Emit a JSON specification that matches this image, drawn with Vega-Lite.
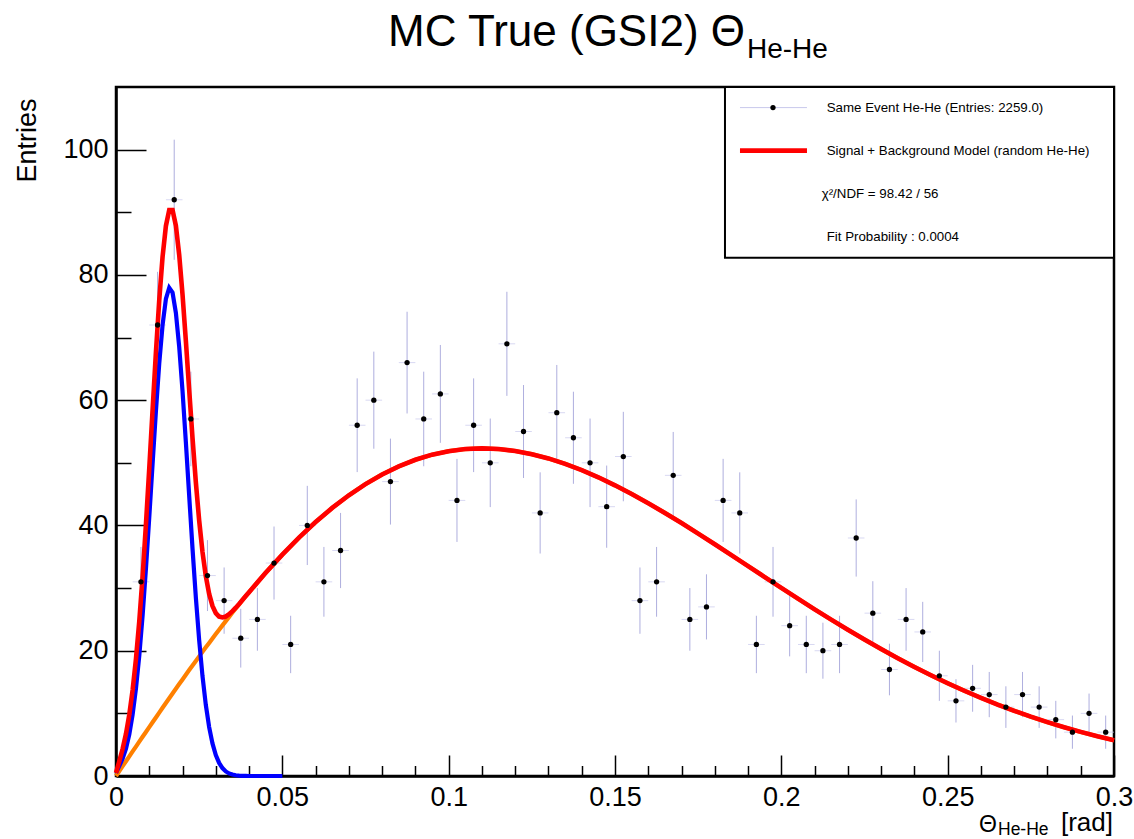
{
  "$schema": "https://vega.github.io/schema/vega-lite/v6.json",
  "width": 998,
  "height": 689,
  "autosize": "none",
  "padding": {"left": 116, "top": 87, "right": 20, "bottom": 63},
  "background": "white",
  "resolve": {"axis": {"x": "independent"}},
  "config": {
    "font": "Liberation Sans",
    "view": {"stroke": "#000000", "strokeWidth": 2.5},
    "axis": {
      "grid": false,
      "domainColor": "#000000",
      "domainWidth": 2.5,
      "tickColor": "#000000",
      "tickWidth": 1.5,
      "labelColor": "#000000",
      "labelFont": "Liberation Sans",
      "labelFontSize": 27,
      "labelFlush": false,
      "labelOverlap": false,
      "titleColor": "#000000",
      "titleFont": "Liberation Sans",
      "titleFontWeight": "normal"
    }
  },
  "datasets": {
    "h": [
      {"x": 0.0075, "n": 31, "e": 5.57},
      {"x": 0.0125, "n": 72, "e": 8.49},
      {"x": 0.0175, "n": 92, "e": 9.59},
      {"x": 0.0225, "n": 57, "e": 7.55},
      {"x": 0.0275, "n": 32, "e": 5.66},
      {"x": 0.0325, "n": 28, "e": 5.29},
      {"x": 0.0375, "n": 22, "e": 4.69},
      {"x": 0.0425, "n": 25, "e": 5.0},
      {"x": 0.0475, "n": 34, "e": 5.83},
      {"x": 0.0525, "n": 21, "e": 4.58},
      {"x": 0.0575, "n": 40, "e": 6.32},
      {"x": 0.0625, "n": 31, "e": 5.57},
      {"x": 0.0675, "n": 36, "e": 6.0},
      {"x": 0.0725, "n": 56, "e": 7.48},
      {"x": 0.0775, "n": 60, "e": 7.75},
      {"x": 0.0825, "n": 47, "e": 6.86},
      {"x": 0.0875, "n": 66, "e": 8.12},
      {"x": 0.0925, "n": 57, "e": 7.55},
      {"x": 0.0975, "n": 61, "e": 7.81},
      {"x": 0.1025, "n": 44, "e": 6.63},
      {"x": 0.1075, "n": 56, "e": 7.48},
      {"x": 0.1125, "n": 50, "e": 7.07},
      {"x": 0.1175, "n": 69, "e": 8.31},
      {"x": 0.1225, "n": 55, "e": 7.42},
      {"x": 0.1275, "n": 42, "e": 6.48},
      {"x": 0.1325, "n": 58, "e": 7.62},
      {"x": 0.1375, "n": 54, "e": 7.35},
      {"x": 0.1425, "n": 50, "e": 7.07},
      {"x": 0.1475, "n": 43, "e": 6.56},
      {"x": 0.1525, "n": 51, "e": 7.14},
      {"x": 0.1575, "n": 28, "e": 5.29},
      {"x": 0.1625, "n": 31, "e": 5.57},
      {"x": 0.1675, "n": 48, "e": 6.93},
      {"x": 0.1725, "n": 25, "e": 5.0},
      {"x": 0.1775, "n": 27, "e": 5.2},
      {"x": 0.1825, "n": 44, "e": 6.63},
      {"x": 0.1875, "n": 42, "e": 6.48},
      {"x": 0.1925, "n": 21, "e": 4.58},
      {"x": 0.1975, "n": 31, "e": 5.57},
      {"x": 0.2025, "n": 24, "e": 4.9},
      {"x": 0.2075, "n": 21, "e": 4.58},
      {"x": 0.2125, "n": 20, "e": 4.47},
      {"x": 0.2175, "n": 21, "e": 4.58},
      {"x": 0.2225, "n": 38, "e": 6.16},
      {"x": 0.2275, "n": 26, "e": 5.1},
      {"x": 0.2325, "n": 17, "e": 4.12},
      {"x": 0.2375, "n": 25, "e": 5.0},
      {"x": 0.2425, "n": 23, "e": 4.8},
      {"x": 0.2475, "n": 16, "e": 4.0},
      {"x": 0.2525, "n": 12, "e": 3.46},
      {"x": 0.2575, "n": 14, "e": 3.74},
      {"x": 0.2625, "n": 13, "e": 3.61},
      {"x": 0.2675, "n": 11, "e": 3.32},
      {"x": 0.2725, "n": 13, "e": 3.61},
      {"x": 0.2775, "n": 11, "e": 3.32},
      {"x": 0.2825, "n": 9, "e": 3.0},
      {"x": 0.2875, "n": 7, "e": 2.65},
      {"x": 0.2925, "n": 10, "e": 3.16},
      {"x": 0.2975, "n": 7, "e": 2.65}
    ],
    "fit": [
      {"x": 0.000, "s": 0.5, "b": 0.0, "t": 0.5},
      {"x": 0.001, "s": 1.6, "b": 0.78, "t": 2.38},
      {"x": 0.002, "s": 2.78, "b": 1.57, "t": 4.35},
      {"x": 0.003, "s": 4.38, "b": 2.35, "t": 6.73},
      {"x": 0.004, "s": 6.66, "b": 3.13, "t": 9.79},
      {"x": 0.005, "s": 9.81, "b": 3.92, "t": 13.73},
      {"x": 0.006, "s": 13.97, "b": 4.7, "t": 18.67},
      {"x": 0.007, "s": 19.25, "b": 5.48, "t": 24.73},
      {"x": 0.008, "s": 25.66, "b": 6.26, "t": 31.92},
      {"x": 0.009, "s": 33.12, "b": 7.03, "t": 40.15},
      {"x": 0.010, "s": 41.32, "b": 7.81, "t": 49.13},
      {"x": 0.011, "s": 49.88, "b": 8.58, "t": 58.46},
      {"x": 0.012, "s": 58.27, "b": 9.35, "t": 67.62},
      {"x": 0.013, "s": 65.86, "b": 10.12, "t": 75.98},
      {"x": 0.014, "s": 72.0, "b": 10.89, "t": 82.89},
      {"x": 0.015, "s": 76.17, "b": 11.65, "t": 87.82},
      {"x": 0.016, "s": 77.95, "b": 12.41, "t": 90.36},
      {"x": 0.017, "s": 77.18, "b": 13.17, "t": 90.35},
      {"x": 0.018, "s": 73.94, "b": 13.92, "t": 87.86},
      {"x": 0.019, "s": 68.52, "b": 14.68, "t": 83.2},
      {"x": 0.020, "s": 61.44, "b": 15.42, "t": 76.86},
      {"x": 0.021, "s": 53.3, "b": 16.17, "t": 69.47},
      {"x": 0.022, "s": 44.73, "b": 16.91, "t": 61.64},
      {"x": 0.023, "s": 36.32, "b": 17.64, "t": 53.96},
      {"x": 0.024, "s": 28.53, "b": 18.37, "t": 46.9},
      {"x": 0.025, "s": 21.68, "b": 19.1, "t": 40.78},
      {"x": 0.026, "s": 15.95, "b": 19.82, "t": 35.77},
      {"x": 0.027, "s": 11.35, "b": 20.54, "t": 31.89},
      {"x": 0.028, "s": 7.81, "b": 21.25, "t": 29.06},
      {"x": 0.029, "s": 5.2, "b": 21.96, "t": 27.16},
      {"x": 0.030, "s": 3.35, "b": 22.66, "t": 26.01},
      {"x": 0.031, "s": 2.09, "b": 23.36, "t": 25.45},
      {"x": 0.032, "s": 1.26, "b": 24.05, "t": 25.31},
      {"x": 0.033, "s": 0.73, "b": 24.73, "t": 25.46},
      {"x": 0.034, "s": 0.41, "b": 25.41, "t": 25.82},
      {"x": 0.035, "s": 0.23, "b": 26.09, "t": 26.32},
      {"x": 0.036, "s": 0.12, "b": 26.75, "t": 26.87},
      {"x": 0.037, "s": 0.06, "b": 27.41, "t": 27.47},
      {"x": 0.038, "s": 0.03, "b": 28.07, "t": 28.1},
      {"x": 0.039, "s": 0.01, "b": 28.71, "t": 28.72},
      {"x": 0.040, "s": 0.0, "b": 29.35, "t": 29.35},
      {"x": 0.045, "s": 0.0, "b": 32.45, "t": 32.45},
      {"x": 0.050, "s": 0.0, "b": 35.35, "t": 35.35},
      {"x": 0.055, "s": 0.0, "b": 38.05, "t": 38.05},
      {"x": 0.060, "s": 0.0, "b": 40.54, "t": 40.54},
      {"x": 0.065, "s": 0.0, "b": 42.8, "t": 42.8},
      {"x": 0.070, "s": 0.0, "b": 44.82, "t": 44.82},
      {"x": 0.075, "s": 0.0, "b": 46.6, "t": 46.6},
      {"x": 0.080, "s": 0.0, "b": 48.14, "t": 48.14},
      {"x": 0.085, "s": 0.0, "b": 49.44, "t": 49.44},
      {"x": 0.090, "s": 0.0, "b": 50.49, "t": 50.49},
      {"x": 0.095, "s": 0.0, "b": 51.3, "t": 51.3},
      {"x": 0.100, "s": 0.0, "b": 51.86, "t": 51.86},
      {"x": 0.105, "s": 0.0, "b": 52.2, "t": 52.2},
      {"x": 0.110, "s": 0.0, "b": 52.31, "t": 52.31},
      {"x": 0.115, "s": 0.0, "b": 52.2, "t": 52.2},
      {"x": 0.120, "s": 0.0, "b": 51.89, "t": 51.89},
      {"x": 0.125, "s": 0.0, "b": 51.38, "t": 51.38},
      {"x": 0.130, "s": 0.0, "b": 50.7, "t": 50.7},
      {"x": 0.135, "s": 0.0, "b": 49.84, "t": 49.84},
      {"x": 0.140, "s": 0.0, "b": 48.83, "t": 48.83},
      {"x": 0.145, "s": 0.0, "b": 47.69, "t": 47.69},
      {"x": 0.150, "s": 0.0, "b": 46.41, "t": 46.41},
      {"x": 0.155, "s": 0.0, "b": 45.03, "t": 45.03},
      {"x": 0.160, "s": 0.0, "b": 43.55, "t": 43.55},
      {"x": 0.165, "s": 0.0, "b": 42.0, "t": 42.0},
      {"x": 0.170, "s": 0.0, "b": 40.38, "t": 40.38},
      {"x": 0.175, "s": 0.0, "b": 38.7, "t": 38.7},
      {"x": 0.180, "s": 0.0, "b": 36.99, "t": 36.99},
      {"x": 0.185, "s": 0.0, "b": 35.26, "t": 35.26},
      {"x": 0.190, "s": 0.0, "b": 33.51, "t": 33.51},
      {"x": 0.195, "s": 0.0, "b": 31.76, "t": 31.76},
      {"x": 0.200, "s": 0.0, "b": 30.03, "t": 30.03},
      {"x": 0.205, "s": 0.0, "b": 28.31, "t": 28.31},
      {"x": 0.210, "s": 0.0, "b": 26.61, "t": 26.61},
      {"x": 0.215, "s": 0.0, "b": 24.96, "t": 24.96},
      {"x": 0.220, "s": 0.0, "b": 23.34, "t": 23.34},
      {"x": 0.225, "s": 0.0, "b": 21.78, "t": 21.78},
      {"x": 0.230, "s": 0.0, "b": 20.26, "t": 20.26},
      {"x": 0.235, "s": 0.0, "b": 18.81, "t": 18.81},
      {"x": 0.240, "s": 0.0, "b": 17.41, "t": 17.41},
      {"x": 0.245, "s": 0.0, "b": 16.08, "t": 16.08},
      {"x": 0.250, "s": 0.0, "b": 14.81, "t": 14.81},
      {"x": 0.255, "s": 0.0, "b": 13.61, "t": 13.61},
      {"x": 0.260, "s": 0.0, "b": 12.48, "t": 12.48},
      {"x": 0.265, "s": 0.0, "b": 11.41, "t": 11.41},
      {"x": 0.270, "s": 0.0, "b": 10.41, "t": 10.41},
      {"x": 0.275, "s": 0.0, "b": 9.47, "t": 9.47},
      {"x": 0.280, "s": 0.0, "b": 8.6, "t": 8.6},
      {"x": 0.285, "s": 0.0, "b": 7.79, "t": 7.79},
      {"x": 0.290, "s": 0.0, "b": 7.04, "t": 7.04},
      {"x": 0.295, "s": 0.0, "b": 6.34, "t": 6.34},
      {"x": 0.300, "s": 0.0, "b": 5.71, "t": 5.71}
    ]
  },
  "layer": [
    {
      "data": {"name": "h"},
      "mark": {"type": "tick", "orient": "horizontal", "size": 16.6, "thickness": 1, "color": "#c8c8ec"},
      "encoding": {
        "x": {
          "field": "x", "type": "quantitative", "title": null,
          "scale": {"domain": [0, 0.3], "nice": false, "zero": false},
          "axis": {
            "title": null,
            "values": [0, 0.01, 0.02, 0.03, 0.04, 0.05, 0.06, 0.07, 0.08, 0.09, 0.1, 0.11, 0.12, 0.13, 0.14, 0.15, 0.16, 0.17, 0.18, 0.19, 0.2, 0.21, 0.22, 0.23, 0.24, 0.25, 0.26, 0.27, 0.28, 0.29, 0.3],
            "tickSize": {"condition": {"test": "indexof(['0','0.05','0.1','0.15','0.2','0.25','0.3'], format(datum.value, '~g')) >= 0", "value": -21}, "value": -10.5},
            "labelExpr": "indexof(['0','0.05','0.1','0.15','0.2','0.25','0.3'], format(datum.value, '~g')) >= 0 ? format(datum.value, '~g') : ''",
            "labelPadding": 29,
            "labelOverlap": false,
            "labelFlush": false
          }
        },
        "y": {
          "field": "n", "type": "quantitative", "title": "Entries",
          "scale": {"domain": [0, 110], "nice": false, "zero": false},
          "axis": {
            "title": "Entries",
            "titleFontSize": 27,
            "titleAngle": -90,
            "titleAlign": "right",
            "titleBaseline": "alphabetic",
            "titleX": -81,
            "titleY": 11,
            "values": [0, 5, 10, 15, 20, 25, 30, 35, 40, 45, 50, 55, 60, 65, 70, 75, 80, 85, 90, 95, 100, 105],
            "tickSize": {"condition": {"test": "datum.value % 20 === 0", "value": -30}, "value": -15},
            "labelExpr": "datum.value % 20 === 0 ? datum.label : ''",
            "labelPadding": 38,
            "labelOverlap": false
          }
        }
      }
    },
    {
      "data": {"name": "h"},
      "mark": {"type": "errorbar", "ticks": false, "rule": {"color": "#9a9ad6", "strokeWidth": 1, "opacity": 0.8}},
      "encoding": {
        "x": {"field": "x", "type": "quantitative", "title": null, "axis": null},
        "y": {"field": "n", "type": "quantitative", "title": "Entries"},
        "yError": {"field": "e"}
      }
    },
    {
      "data": {"name": "fit"},
      "mark": {"type": "line", "color": "#ff8000", "strokeWidth": 4.2},
      "encoding": {
        "x": {"field": "x", "type": "quantitative", "title": null, "axis": null},
        "y": {"field": "b", "type": "quantitative", "title": "Entries"}
      }
    },
    {
      "data": {"name": "fit"},
      "transform": [{"filter": "datum.x <= 0.05"}],
      "mark": {"type": "line", "color": "#0000ff", "strokeWidth": 4.2},
      "encoding": {
        "x": {"field": "x", "type": "quantitative", "title": null, "axis": null},
        "y": {"field": "s", "type": "quantitative", "title": "Entries"}
      }
    },
    {
      "data": {"name": "fit"},
      "mark": {"type": "line", "color": "#ff0000", "strokeWidth": 4.6},
      "encoding": {
        "x": {"field": "x", "type": "quantitative", "title": null, "axis": null},
        "y": {"field": "t", "type": "quantitative", "title": "Entries"}
      }
    },
    {
      "data": {"name": "h"},
      "mark": {"type": "circle", "color": "#000000", "size": 28, "opacity": 1},
      "encoding": {
        "x": {"field": "x", "type": "quantitative", "title": null, "axis": null},
        "y": {"field": "n", "type": "quantitative", "title": "Entries"}
      }
    },
    {
      "data": {"values": [{}]},
      "mark": {"type": "rect", "fill": "#ffffff", "stroke": "#000000", "strokeWidth": 2},
      "encoding": {
        "x": {"datum": 0.18306, "type": "quantitative", "axis": null},
        "x2": {"datum": 0.3},
        "y": {"datum": 82.75, "type": "quantitative"},
        "y2": {"datum": 110}
      }
    },
    {
      "data": {"values": [{}]},
      "mark": {"type": "rule", "color": "#c8c8ec", "strokeWidth": 1},
      "encoding": {
        "x": {"datum": 0.18757, "type": "quantitative", "axis": null},
        "x2": {"datum": 0.20771},
        "y": {"datum": 106.71, "type": "quantitative"}
      }
    },
    {
      "data": {"values": [{}]},
      "mark": {"type": "circle", "color": "#000000", "size": 28, "opacity": 1},
      "encoding": {
        "x": {"datum": 0.19749, "type": "quantitative", "axis": null},
        "y": {"datum": 106.71, "type": "quantitative"}
      }
    },
    {
      "data": {"values": [{}]},
      "mark": {"type": "rule", "color": "#ff0000", "strokeWidth": 4.6},
      "encoding": {
        "x": {"datum": 0.18757, "type": "quantitative", "axis": null},
        "x2": {"datum": 0.20771},
        "y": {"datum": 99.84, "type": "quantitative"}
      }
    },
    {
      "data": {"values": [{}]},
      "mark": {"type": "text", "text": "Same Event He-He (Entries: 2259.0)", "fontSize": 13.3, "align": "left", "baseline": "middle", "color": "#000000"},
      "encoding": {
        "x": {"datum": 0.21364, "type": "quantitative", "axis": null},
        "y": {"datum": 106.71, "type": "quantitative"}
      }
    },
    {
      "data": {"values": [{}]},
      "mark": {"type": "text", "text": "Signal + Background Model (random He-He)", "fontSize": 13.3, "align": "left", "baseline": "middle", "color": "#000000"},
      "encoding": {
        "x": {"datum": 0.21364, "type": "quantitative", "axis": null},
        "y": {"datum": 99.84, "type": "quantitative"}
      }
    },
    {
      "data": {"values": [{}]},
      "mark": {"type": "text", "text": "χ²/NDF = 98.42 / 56", "fontSize": 13.3, "align": "left", "baseline": "middle", "color": "#000000"},
      "encoding": {
        "x": {"datum": 0.21213, "type": "quantitative", "axis": null},
        "y": {"datum": 92.97, "type": "quantitative"}
      }
    },
    {
      "data": {"values": [{}]},
      "mark": {"type": "text", "text": "Fit Probability : 0.0004", "fontSize": 13.3, "align": "left", "baseline": "middle", "color": "#000000"},
      "encoding": {
        "x": {"datum": 0.21364, "type": "quantitative", "axis": null},
        "y": {"datum": 86.1, "type": "quantitative"}
      }
    },
    {
      "data": {"values": [{}]},
      "mark": {"type": "text", "text": "MC True (GSI2) Θ", "fontSize": 44, "align": "right", "baseline": "alphabetic", "color": "#000000"},
      "encoding": {
        "x": {"datum": 0.18908, "type": "quantitative", "axis": null},
        "y": {"datum": 116.55, "type": "quantitative"}
      }
    },
    {
      "data": {"values": [{}]},
      "mark": {"type": "text", "text": "He-He", "fontSize": 28, "align": "left", "baseline": "alphabetic", "color": "#000000"},
      "encoding": {
        "x": {"datum": 0.18968, "type": "quantitative", "axis": null},
        "y": {"datum": 114.63, "type": "quantitative"}
      }
    },
    {
      "data": {"values": [{}]},
      "mark": {"type": "text", "text": "Θ", "fontSize": 23, "align": "right", "baseline": "alphabetic", "color": "#000000"},
      "encoding": {
        "x": {"datum": 0.26483, "type": "quantitative", "axis": null},
        "y": {"datum": -8.94, "type": "quantitative"}
      }
    },
    {
      "data": {"values": [{}]},
      "mark": {"type": "text", "text": "He-He", "fontSize": 17.5, "align": "left", "baseline": "alphabetic", "color": "#000000"},
      "encoding": {
        "x": {"datum": 0.26513, "type": "quantitative", "axis": null},
        "y": {"datum": -9.42, "type": "quantitative"}
      }
    },
    {
      "data": {"values": [{}]},
      "mark": {"type": "text", "text": "[rad]", "fontSize": 26, "align": "right", "baseline": "alphabetic", "color": "#000000"},
      "encoding": {
        "x": {"datum": 0.2997, "type": "quantitative", "axis": null},
        "y": {"datum": -8.78, "type": "quantitative"}
      }
    }
  ]
}
